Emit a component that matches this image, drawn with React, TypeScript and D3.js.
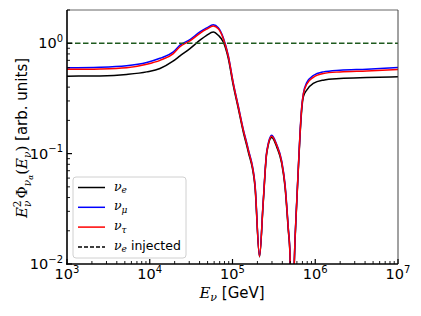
import React from "react";
import * as d3 from "d3";

const energies = [
  1000, 2500, 5250, 9200, 13300, 19100, 23200, 30600, 40400, 48700, 58600,
  67300, 77400, 89000, 102000, 117500, 135000, 155000, 187000, 212000, 235000,
  259000, 298000, 342000, 393000, 431000, 472000, 495000, 525000, 558000,
  597000, 624000, 655000, 686000, 718000, 789000, 946000, 1250000, 1990000,
  4190000, 10000000,
];

const nuE = [
  0.503, 0.506, 0.521, 0.55, 0.59, 0.687, 0.767, 0.895, 1.065, 1.18, 1.265,
  1.18, 1.027, 0.727, 0.417, 0.256, 0.157, 0.104, 0.05, 0.0116, 0.0356, 0.1,
  0.14, 0.115, 0.0815, 0.05, 0.0203, 0.012, 0.001, 0.01, 0.0354, 0.071, 0.147,
  0.248, 0.327, 0.376, 0.432, 0.463, 0.479, 0.489, 0.496,
];

const nuMu = [
  0.6, 0.606, 0.625, 0.67, 0.73, 0.83, 0.96, 1.08, 1.265, 1.375, 1.47, 1.38,
  1.12, 0.77, 0.44, 0.27, 0.166, 0.11, 0.053, 0.0118, 0.037, 0.104, 0.147,
  0.121, 0.086, 0.053, 0.0215, 0.0125, 0.001, 0.0105, 0.037, 0.074, 0.155,
  0.265, 0.35, 0.44, 0.51, 0.55, 0.57, 0.582, 0.603,
];

const nuTau = [
  0.58, 0.585, 0.6, 0.645, 0.7, 0.8, 0.93, 1.05, 1.23, 1.34, 1.43, 1.35, 1.1,
  0.76, 0.435, 0.265, 0.163, 0.108, 0.052, 0.0117, 0.0365, 0.102, 0.144,
  0.119, 0.084, 0.052, 0.021, 0.0123, 0.001, 0.0104, 0.036, 0.073, 0.152,
  0.26, 0.345, 0.425, 0.49, 0.532, 0.55, 0.561, 0.578,
];

const injectedLevel = 1.0;

const xTickExps = [3, 4, 5, 6, 7];
const yTickExps = [-2, -1, 0];

const series = [
  { name: "e", values: nuE, color: "#000000" },
  { name: "μ", values: nuMu, color: "#0000ff" },
  { name: "τ", values: nuTau, color: "#ff0000" },
];

const L = 67, R = 398, T = 10, B = 264;

export default function App() {
  const x = d3.scaleLog().domain([1e3, 1e7]).range([L, R]);
  const y = d3.scaleLog().domain([0.01, 2]).range([B, T]);

  const line = d3
    .line<number>()
    .x((_, i) => x(energies[i]))
    .y((v) => y(v))
    .curve(d3.curveMonotoneX);

  const xMinor: number[] = [];
  for (let e = 3; e < 7; e++) for (let m = 2; m <= 9; m++) xMinor.push(m * Math.pow(10, e));
  const yMinor: number[] = [];
  for (let e = -2; e < 0; e++) for (let m = 2; m <= 9; m++) yMinor.push(m * Math.pow(10, e));
  yMinor.push(2);

  const sans = "DejaVu Sans, sans-serif";
  const serif = "DejaVu Serif, serif";
  const fmtExp = (e: number) => (e < 0 ? "\u2212" + Math.abs(e) : String(e));

  const legendItems = [
    { sub: "e", color: "#000", dash: null, extra: "" },
    { sub: "μ", color: "#0000ff", dash: null, extra: "" },
    { sub: "τ", color: "#ff0000", dash: null, extra: "" },
    { sub: "e", color: "#000", dash: "4,2", extra: " injected" },
  ];

  return (
    <svg
      width={421}
      height={316}
      style={{ position: "fixed", left: 0, top: 0, background: "#fff" }}
    >
      <defs>
        <clipPath id="plotclip">
          <rect x={L} y={T} width={R - L} height={B - T} />
        </clipPath>
      </defs>
      <rect x={0} y={0} width={421} height={316} fill="#fff" />

      <g clipPath="url(#plotclip)">
        {series.map((s) => (
          <path
            key={s.name}
            d={line(s.values) || ""}
            fill="none"
            stroke={s.color}
            strokeWidth={1.5}
            strokeLinejoin="round"
          />
        ))}
        <line
          x1={L}
          x2={R}
          y1={y(injectedLevel)}
          y2={y(injectedLevel)}
          stroke="#1e5a1e"
          strokeWidth={1.4}
          strokeDasharray="5.5,2.5"
        />
      </g>

      {/* frame */}
      <line x1={L} x2={R} y1={T} y2={T} stroke="#666" strokeWidth={1} />
      <line x1={R} x2={R} y1={T} y2={B} stroke="#444" strokeWidth={1} />
      <line x1={L} x2={L} y1={T} y2={B + 0.8} stroke="#000" strokeWidth={1.6} />
      <line x1={L - 0.8} x2={R} y1={B} y2={B} stroke="#000" strokeWidth={1.6} />

      {/* x ticks */}
      {xTickExps.map((e) => (
        <line key={"xt" + e} x1={x(Math.pow(10, e))} x2={x(Math.pow(10, e))} y1={B} y2={B - 5} stroke="#000" strokeWidth={1.2} />
      ))}
      {xMinor.map((v, i) => (
        <line key={"xm" + i} x1={x(v)} x2={x(v)} y1={B} y2={B - 3} stroke="#000" strokeWidth={0.9} />
      ))}
      {xTickExps.map((e) => (
        <text key={"xl" + e} x={x(Math.pow(10, e))} y={279} textAnchor="middle" fontFamily={sans} fontSize={14.5} fill="#000">
          <tspan>10</tspan>
          <tspan dy={-6.5} fontSize={10}>{fmtExp(e)}</tspan>
        </text>
      ))}

      {/* y ticks */}
      {yTickExps.map((e) => (
        <line key={"yt" + e} x1={L} x2={L + 5} y1={y(Math.pow(10, e))} y2={y(Math.pow(10, e))} stroke="#000" strokeWidth={1.2} />
      ))}
      {yMinor.map((v, i) => (
        <line key={"ym" + i} x1={L} x2={L + 3} y1={y(v)} y2={y(v)} stroke="#000" strokeWidth={0.9} />
      ))}
      {yTickExps.map((e) => (
        <text key={"yl" + e} x={63} y={y(Math.pow(10, e)) + 5} textAnchor="end" fontFamily={sans} fontSize={14.5} fill="#000">
          <tspan>10</tspan>
          <tspan dy={-6.5} fontSize={10}>{fmtExp(e)}</tspan>
        </text>
      ))}

      {/* x label */}
      <text x={232} y={298} textAnchor="middle" fontSize={15} fill="#000">
        <tspan fontFamily={serif} fontStyle="italic">E</tspan>
        <tspan fontFamily={serif} fontStyle="italic" fontSize={11} dy={3}>ν</tspan>
        <tspan fontFamily={sans} dy={-3}> [GeV]</tspan>
      </text>

      {/* y label */}
      <g transform="translate(27,138) rotate(-90)">
        <text x={0} y={0} textAnchor="middle" fontSize={15} fill="#000">
          <tspan fontFamily={serif} fontStyle="italic">E</tspan>
          <tspan fontFamily={serif} fontSize={10.5} dy={-6.5}>2</tspan>
          <tspan fontFamily={serif} fontStyle="italic" fontSize={10.5} dx={-6.5} dy={10}>ν</tspan>
          <tspan fontFamily={serif} dx={2} dy={-3.5}>Φ</tspan>
          <tspan fontFamily={serif} fontStyle="italic" fontSize={10.5} dy={3.5}>ν</tspan>
          <tspan fontFamily={serif} fontStyle="italic" fontSize={7.5} dy={2}>α</tspan>
          <tspan fontFamily={serif} dy={-5.5}>(</tspan>
          <tspan fontFamily={serif} fontStyle="italic">E</tspan>
          <tspan fontFamily={serif} fontStyle="italic" fontSize={10.5} dy={3.5}>ν</tspan>
          <tspan fontFamily={serif} dy={-3.5}>)</tspan>
          <tspan fontFamily={sans}> [arb. units]</tspan>
        </text>
      </g>

      {/* legend */}
      <rect x={73} y={177} width={113} height={81} rx={3} fill="#fff" fillOpacity={0.85} stroke="#d0d0d0" strokeWidth={1} />
      {legendItems.map((it, i) => {
        const cy = 187.5 + i * 19.8;
        return (
          <g key={"lg" + i}>
            <line x1={78} x2={105} y1={cy} y2={cy} stroke={it.color} strokeWidth={1.5} strokeDasharray={it.dash || undefined} />
            <text x={114} y={cy + 3} fontSize={12.5} fill="#000">
              <tspan fontFamily={serif} fontStyle="italic">ν</tspan>
              <tspan fontFamily={serif} fontStyle="italic" fontSize={9} dy={2.5}>{it.sub}</tspan>
              {it.extra ? (
                <tspan fontFamily={sans} dy={-2.5}>{it.extra}</tspan>
              ) : null}
            </text>
          </g>
        );
      })}
    </svg>
  );
}
